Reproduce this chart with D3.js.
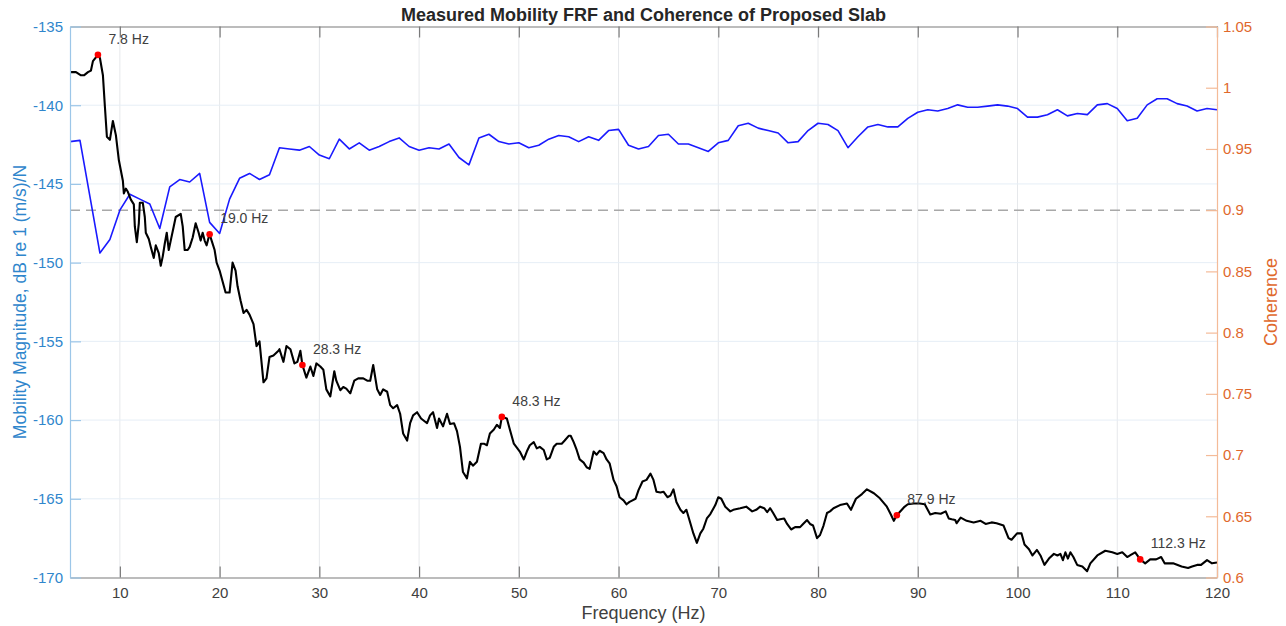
<!DOCTYPE html>
<html>
<head>
<meta charset="utf-8">
<script src="https://cdn.jsdelivr.net/npm/d3@7"></script>
<style>
  html, body { margin: 0; padding: 0; background: #ffffff; }
  svg { display: block; font-family: "Liberation Sans", Arial, Helvetica, sans-serif; }
</style>
</head>
<body>
<svg id="chart" width="1286" height="626"></svg>
<script>
// Measured mobility FRF (dB re 1 (m/s)/N) versus frequency (Hz)
const frfFreq = [
  5.0, 5.6, 6.1, 6.4, 6.8, 7.1, 7.3, 7.8, 8.0, 8.3, 8.5, 8.7, 9.0, 9.3, 9.6, 9.9,
  10.3, 10.4, 10.6, 10.8, 11.1, 11.4, 11.5, 11.7, 11.9, 12.0, 12.3, 12.5, 12.6, 12.9,
  13.1, 13.4, 13.6, 13.9, 14.1, 14.3, 14.5, 14.7, 14.9, 15.1, 15.4, 15.6, 16.1, 16.3,
  16.5, 16.8, 17.0, 17.3, 17.6, 17.9, 18.1, 18.3, 18.5, 18.7, 18.9, 19.0, 19.2, 19.5,
  19.7, 20.0, 20.3, 20.6, 21.0, 21.3, 21.6, 21.8, 22.1, 22.4, 22.7, 23.0, 23.4, 23.7,
  24.0, 24.4, 24.7, 25.0, 25.4, 25.9, 26.0, 26.4, 26.7, 27.1, 27.5, 27.8, 28.1, 28.3,
  28.7, 29.1, 29.4, 29.7, 30.1, 30.4, 30.7, 31.1, 31.5, 31.7, 32.1, 32.4, 32.7, 33.1,
  33.5, 33.9, 34.4, 34.8, 35.1, 35.4, 35.8, 36.1, 36.4, 36.8, 37.1, 37.4, 37.8, 38.1,
  38.4, 38.8, 39.1, 39.4, 39.8, 40.2, 40.8, 41.1, 41.4, 41.8, 42.0, 42.4, 42.8, 43.1,
  43.5, 43.8, 44.1, 44.4, 44.8, 45.1, 45.4, 45.8, 46.2, 46.5, 46.8, 47.1, 47.5, 47.8,
  48.1, 48.3, 48.8, 49.1, 49.5, 49.8, 50.1, 50.5, 50.8, 51.1, 51.5, 51.8, 52.1, 52.5,
  52.8, 53.1, 53.5, 53.8, 54.3, 54.6, 55.0, 55.2, 55.5, 55.8, 56.1, 56.5, 56.8, 57.1,
  57.5, 57.8, 58.1, 58.5, 58.8, 59.1, 59.5, 59.8, 60.1, 60.5, 60.8, 61.1, 61.4, 61.7,
  62.0, 62.4, 62.8, 63.2, 63.5, 63.8, 64.2, 64.5, 64.9, 65.2, 65.5, 65.8, 66.2, 66.5,
  66.8, 67.2, 67.5, 67.85, 68.2, 68.5, 68.85, 69.2, 69.7, 70.0, 70.3, 70.7, 71.2, 71.5,
  72.2, 72.8, 73.4, 73.8, 74.2, 74.6, 74.9, 75.2, 75.5, 75.9, 76.2, 76.6, 76.9, 77.3,
  77.7, 78.2, 78.5, 78.9, 79.2, 79.5, 79.9, 80.2, 80.55, 80.9, 81.2, 81.55, 82.2, 82.9,
  83.3, 83.8, 84.4, 84.9, 85.6, 86.2, 86.9, 87.3, 87.6, 87.9, 88.6, 89.0, 89.6, 90.2,
  90.7, 91.25, 91.75, 92.3, 92.8, 93.1, 93.4, 93.75, 93.9, 94.3, 94.9, 95.6, 96.3, 96.8,
  97.4, 97.9, 98.6, 99.1, 99.4, 99.95, 100.4, 100.7, 101.15, 101.5, 101.95, 102.3, 102.7,
  103.15, 103.65, 104.0, 104.3, 104.55, 104.8, 105.05, 105.3, 105.6, 105.98, 106.5,
  106.98, 107.3, 108.0, 108.8, 109.5, 110.0, 110.5, 111.0, 111.4, 111.8, 112.3, 112.8,
  113.3, 113.9, 114.4, 114.75, 115.6, 116.45, 117.1, 117.5, 118.0, 118.4, 119.0, 119.5, 120.0
];
const frfDb = [
  -137.9, -137.9, -138.1, -138.1, -137.9, -137.8, -137.2, -136.8, -137.0, -138.1, -140.1, -142.0, -142.2, -141.0, -141.9, -143.5,
  -144.8, -145.6, -145.3, -145.5, -146.0, -146.3, -147.7, -148.7, -147.5, -146.2, -146.2, -147.1, -148.1, -148.5,
  -149.0, -149.7, -148.9, -149.4, -150.2, -149.6, -148.8, -148.1, -149.2, -148.6, -147.7, -147.1, -146.9, -147.7,
  -149.2, -149.2, -149.0, -148.4, -147.5, -148.1, -148.6, -148.1, -148.6, -148.9, -148.4, -148.2, -148.6, -149.2,
  -150.0, -150.5, -151.2, -151.9, -151.9, -150.0, -150.5, -151.5, -152.4, -153.2, -153.0, -153.3, -153.9, -155.3,
  -155.0, -157.6, -157.35, -156.0, -155.9, -155.6, -155.5, -156.3, -155.3, -155.5, -156.4, -156.3, -155.6, -156.5,
  -157.3, -156.6, -157.2, -156.4, -156.6, -156.8, -158.05, -158.5, -156.9, -157.5, -158.1, -157.9, -158.0, -158.3,
  -157.5, -157.35, -157.35, -157.5, -157.5, -156.5, -158.05, -158.4, -158.05, -158.2, -159.05, -159.25, -159.05, -159.6,
  -160.85, -161.3, -160.2, -159.7, -159.5, -159.9, -160.2, -159.7, -159.5, -160.5, -159.9, -160.4, -159.6, -160.25,
  -160.2, -160.7, -161.7, -163.3, -163.7, -162.65, -162.9, -162.65, -161.5, -161.5, -161.6, -160.85, -160.6, -160.3,
  -160.5, -159.8, -159.9, -160.6, -161.5, -161.75, -162.0, -162.5, -162.0, -161.6, -161.4, -161.8, -161.7, -161.9,
  -162.5, -162.4, -161.7, -161.5, -161.5, -161.3, -161.0, -161.0, -161.4, -161.9, -162.5, -162.7, -163.0, -163.1,
  -162.0, -162.2, -161.95, -162.1, -162.5, -162.75, -163.8, -164.2, -164.9, -165.1, -165.35, -165.2, -165.1, -165.0,
  -164.45, -163.9, -163.8, -163.4, -163.8, -164.55, -164.6, -164.55, -164.9, -164.8, -164.4, -165.2, -165.7, -165.9,
  -165.7, -166.55, -167.2, -167.8, -167.2, -166.9, -166.25, -165.97, -165.4, -164.9, -165.0, -165.5, -165.8, -165.7,
  -165.6, -165.5, -165.8, -165.7, -165.5, -165.6, -165.85, -165.6, -165.9, -166.35, -166.3, -166.25, -166.6, -166.95,
  -166.8, -166.8, -166.6, -166.35, -166.6, -166.7, -167.5, -167.3, -166.7, -165.9, -165.8, -165.6, -165.4, -165.3,
  -165.7, -165.0, -164.7, -164.4, -164.65, -164.97, -165.5, -166.0, -166.4, -166.05, -165.55, -165.35, -165.3, -165.3,
  -165.35, -166.0, -165.9, -165.95, -165.8, -166.25, -166.3, -166.35, -166.55, -166.2, -166.4, -166.5, -166.4, -166.6,
  -166.5, -166.55, -166.7, -167.5, -167.6, -167.2, -167.2, -167.9, -168.2, -168.6, -168.25, -168.6, -169.2,
  -168.8, -168.5, -168.6, -168.5, -168.9, -168.4, -168.8, -168.4, -168.7, -169.2, -169.3,
  -169.6, -169.1, -168.6, -168.3, -168.4, -168.5, -168.4, -168.7, -168.55, -168.4, -168.85, -169.1,
  -168.85, -168.85, -168.7, -169.1, -169.1, -169.3, -169.4, -169.3, -169.2, -169.2, -168.9, -169.1, -169.05
];

// Coherence, 1 Hz resolution
const cohFreq = [
  5, 6, 7, 8, 9, 10, 11, 12, 13, 14, 15, 16, 17, 18, 19, 20, 21, 22, 23, 24, 25, 26, 27, 28, 29,
  30, 31, 32, 33, 34, 35, 36, 37, 38, 39, 40, 41, 42, 43, 44, 45, 46, 47, 48, 49, 50, 51, 52, 53, 54,
  55, 56, 57, 58, 59, 60, 61, 62, 63, 64, 65, 66, 67, 68, 69, 70, 71, 72, 73, 74, 75, 76, 77, 78, 79,
  80, 81, 82, 83, 84, 85, 86, 87, 88, 89, 90, 91, 92, 93, 94, 95, 96, 97, 98, 99, 100, 101, 102, 103, 104,
  105, 106, 107, 108, 109, 110, 111, 112, 113, 114, 115, 116, 117, 118, 119, 120
];
const cohValue = [
  0.956, 0.957, 0.911, 0.865, 0.876, 0.900, 0.913, 0.909, 0.905, 0.885, 0.919, 0.925, 0.923, 0.930, 0.890, 0.881, 0.909, 0.926, 0.930, 0.925, 0.929, 0.951, 0.950, 0.949, 0.952,
  0.945, 0.942, 0.958, 0.950, 0.955, 0.949, 0.952, 0.956, 0.959, 0.952, 0.949, 0.951, 0.950, 0.954, 0.943, 0.937, 0.959, 0.962, 0.956, 0.954, 0.955, 0.951, 0.953, 0.958, 0.961,
  0.960, 0.956, 0.960, 0.957, 0.965, 0.966, 0.953, 0.950, 0.952, 0.961, 0.962, 0.954, 0.954, 0.951, 0.948, 0.955, 0.957, 0.969, 0.971, 0.967, 0.965, 0.963, 0.955, 0.956, 0.965,
  0.971, 0.970, 0.965, 0.951, 0.960, 0.968, 0.970, 0.968, 0.968, 0.975, 0.980, 0.982, 0.981, 0.983, 0.986, 0.984, 0.984, 0.985, 0.986, 0.985, 0.983, 0.976, 0.976, 0.978, 0.982,
  0.977, 0.979, 0.978, 0.986, 0.987, 0.983, 0.973, 0.975, 0.986, 0.991, 0.991, 0.987, 0.985, 0.981, 0.983, 0.982
];

// Annotated resonance peaks
const peakFreq = [7.8, 19.0, 28.3, 48.3, 87.9, 112.3];
const peakDb = [-136.8, -148.2, -156.5, -159.8, -166.05, -168.85];
const peakLabels = ["7.8 Hz", "19.0 Hz", "28.3 Hz", "48.3 Hz", "87.9 Hz", "112.3 Hz"];

// Tick values
const xTicks = [10, 20, 30, 40, 50, 60, 70, 80, 90, 100, 110, 120];
const yLeftTicks = [-170, -165, -160, -155, -150, -145, -140, -135];
const yRightTicks = [0.6, 0.65, 0.7, 0.75, 0.8, 0.85, 0.9, 0.95, 1, 1.05];
const coherenceThreshold = 0.9;

const titleText = "Measured Mobility FRF and Coherence of Proposed Slab";
const xLabelText = "Frequency (Hz)";
const yLeftLabelText = "Mobility Magnitude, dB re 1 (m/s)/N";
const yRightLabelText = "Coherence";

// ---- layout ----
const plot = { left: 70, right: 1217, top: 26.5, bottom: 577.5 };
const tickLen = 11;

const svg = d3.select("#chart");

const x = d3.scaleLinear().domain([5, 120]).range([plot.left, plot.right]);
const yL = d3.scaleLinear().domain([-170, -135]).range([plot.bottom, plot.top]);
const yR = d3.scaleLinear().domain([0.6, 1.05]).range([plot.bottom, plot.top]);

// grid
const grid = svg.append("g");
grid.selectAll("line.vg").data(xTicks.filter(d => d < 120)).join("line")
  .attr("x1", d => x(d)).attr("x2", d => x(d))
  .attr("y1", plot.top).attr("y2", plot.bottom)
  .attr("stroke", "#e6e8eb").attr("stroke-width", 1);
grid.selectAll("line.hg").data(yLeftTicks.filter(d => d > -170 && d < -135)).join("line")
  .attr("x1", plot.left).attr("x2", plot.right)
  .attr("y1", d => yL(d)).attr("y2", d => yL(d))
  .attr("stroke", "#e6eef6").attr("stroke-width", 1);

// coherence threshold
svg.append("line")
  .attr("x1", plot.left).attr("x2", plot.right)
  .attr("y1", yR(coherenceThreshold)).attr("y2", yR(coherenceThreshold))
  .attr("stroke", "#a8a8a8").attr("stroke-width", 1.5)
  .attr("stroke-dasharray", "10,6");

// coherence curve
const cohLine = d3.line().x((d, i) => x(cohFreq[i])).y(d => yR(d));
svg.append("path")
  .attr("d", cohLine(cohValue))
  .attr("fill", "none").attr("stroke", "#1a1aff")
  .attr("stroke-width", 1.6).attr("stroke-linejoin", "round");

// FRF curve
const frfLine = d3.line().x((d, i) => x(frfFreq[i])).y(d => yL(d));
svg.append("path")
  .attr("d", frfLine(frfDb))
  .attr("fill", "none").attr("stroke", "#000000")
  .attr("stroke-width", 2.1).attr("stroke-linejoin", "round");

// peak markers and labels
svg.append("g").selectAll("circle").data(peakFreq).join("circle")
  .attr("cx", d => x(d)).attr("cy", (d, i) => yL(peakDb[i]))
  .attr("r", 3.3).attr("fill", "#ff0000");
svg.append("g").selectAll("text").data(peakLabels).join("text")
  .attr("x", (d, i) => x(peakFreq[i]) + 10.5)
  .attr("y", (d, i) => yL(peakDb[i]) - 11)
  .attr("font-size", 14).attr("fill", "#404040")
  .text(d => d);

// axes
function styleAxis(g, lineColor, textColor) {
  g.select(".domain").attr("stroke", lineColor).attr("stroke-width", 1.2);
  g.selectAll(".tick line").attr("stroke", lineColor).attr("stroke-width", 1.2);
  g.selectAll(".tick text").attr("fill", textColor)
    .attr("font-size", 15).attr("font-family", "Liberation Sans, Arial, sans-serif");
}

const xAxisB = svg.append("g")
  .attr("transform", `translate(0,${plot.bottom})`)
  .call(d3.axisBottom(x).tickValues(xTicks).tickFormat(d3.format("d"))
    .tickSizeInner(-tickLen).tickSizeOuter(0).tickPadding(10));
styleAxis(xAxisB, "#7a7a7a", "#404040");

const xAxisT = svg.append("g")
  .attr("transform", `translate(0,${plot.top})`)
  .call(d3.axisTop(x).tickValues(xTicks).tickFormat("")
    .tickSizeInner(-tickLen).tickSizeOuter(0));
styleAxis(xAxisT, "#7a7a7a", "#404040");

const yAxisL = svg.append("g")
  .attr("transform", `translate(${plot.left},0)`)
  .call(d3.axisLeft(yL).tickValues(yLeftTicks).tickFormat(d3.format("d"))
    .tickSizeInner(-tickLen).tickSizeOuter(0).tickPadding(7));
styleAxis(yAxisL, "#9cc6e8", "#2f86cc");
yAxisL.selectAll(".tick text").text(d => String(d));

const yAxisR = svg.append("g")
  .attr("transform", `translate(${plot.right},0)`)
  .call(d3.axisRight(yR).tickValues(yRightTicks).tickFormat(d => String(+d.toFixed(2)))
    .tickSizeInner(-tickLen).tickSizeOuter(0).tickPadding(6));
styleAxis(yAxisR, "#f4bb98", "#e0682c");

// title and axis labels
svg.append("text")
  .attr("x", (plot.left + plot.right) / 2).attr("y", 21)
  .attr("text-anchor", "middle").attr("font-weight", "bold")
  .attr("font-size", 18).attr("fill", "#262626")
  .text(titleText);

svg.append("text")
  .attr("x", (plot.left + plot.right) / 2).attr("y", 619)
  .attr("text-anchor", "middle").attr("font-size", 18).attr("fill", "#404040")
  .text(xLabelText);

const midY = (plot.top + plot.bottom) / 2;
svg.append("text")
  .attr("transform", `translate(25.5,${midY}) rotate(-90)`)
  .attr("text-anchor", "middle").attr("font-size", 17.5).attr("fill", "#2f86cc")
  .text(yLeftLabelText);

svg.append("text")
  .attr("transform", `translate(1277,${midY}) rotate(-90)`)
  .attr("text-anchor", "middle").attr("font-size", 18).attr("fill", "#e0682c")
  .text(yRightLabelText);
</script>
</body>
</html>
